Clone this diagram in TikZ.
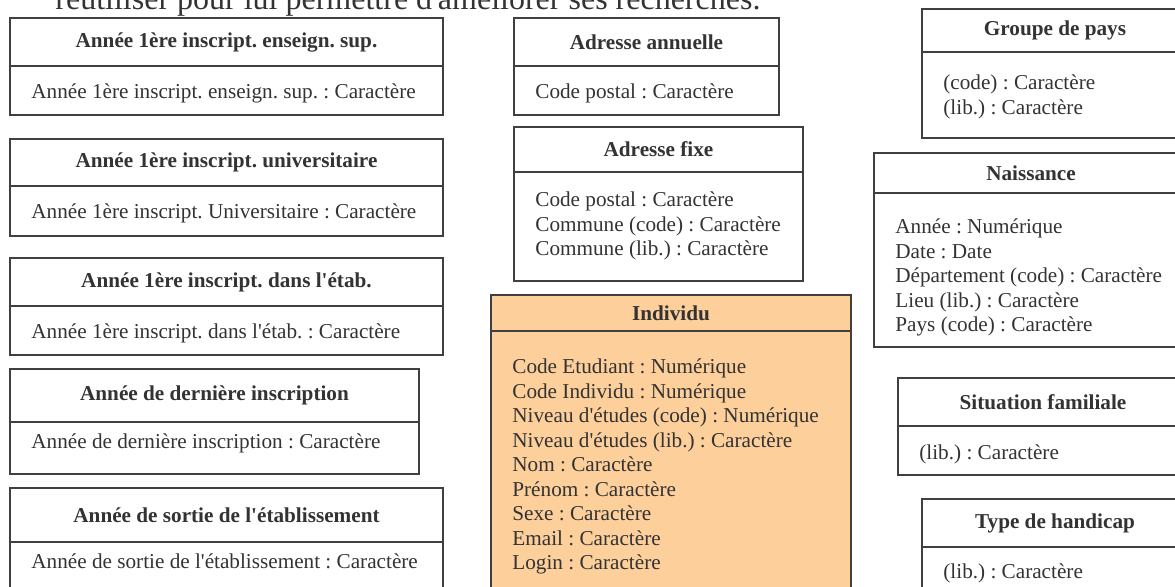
\documentclass[tikz,border=0pt]{standalone}
\usepackage{fontspec}
\setmainfont{Liberation Serif}
\usetikzlibrary{positioning}
\frenchspacing
\definecolor{umlline}{HTML}{404040}
\definecolor{umltext}{HTML}{333333}
\definecolor{indivfill}{HTML}{FCCF9B}
\newcommand{\ap}{\textquotesingle}
\tikzstyle{classhead}=[rectangle,draw=umlline,line width=1pt,anchor=north west,inner sep=0pt,outer sep=0pt,text=umltext,font=\fontsize{10.6}{12.25}\selectfont\bfseries]
\tikzstyle{classbody}=[rectangle,draw=umlline,line width=1pt,anchor=north west,inner sep=0pt,outer sep=0pt]
\tikzstyle{classtext}=[anchor=base west,inner sep=0pt,text=umltext,font=\fontsize{10.6}{12.25}\selectfont]
\tikzstyle{introtext}=[anchor=base west,inner sep=0pt,text=umltext,font=\fontsize{16}{19}\selectfont]

\begin{document}
\begin{tikzpicture}[x=0.5pt,y=-0.5pt]

  \useasboundingbox (0,0) rectangle (1175,587);
  \clip (0,0) rectangle (1175,587);

  \node[introtext] (intro) at (55,10) {réutiliser pour lui permettre d\ap améliorer ses recherches.};

  % name/left/right/top/header/bottom/first line/fill/title/lines
  \foreach \name/\xl/\xr/\yt/\yh/\yb/\yl/\col/\title/\lines in {
      ensup/10/443/18/66/115/92/white/{Année 1ère inscript. enseign. sup.}/{{Année 1ère inscript. enseign. sup. : Caractère}},
      univ/10/443/139/186/236/212/white/{Année 1ère inscript. universitaire}/{{Année 1ère inscript. Universitaire : Caractère}},
      etab/10/443/258/306/355/332/white/{Année 1ère inscript. dans l\ap étab.}/{{Année 1ère inscript. dans l\ap étab. : Caractère}},
      derniere/10/419/369/422/474/442/white/{Année de dernière inscription}/{{Année de dernière inscription : Caractère}},
      sortie/10/443/488/542/640/562/white/{Année de sortie de l\ap établissement}/{{Année de sortie de l\ap établissement : Caractère}},
      annuelle/514/779/18/66/115/92/white/{Adresse annuelle}/{{Code postal : Caractère}},
      fixe/514/803/127/172/281/200/white/{Adresse fixe}/{{Code postal : Caractère},{Commune (code) : Caractère},{Commune (lib.) : Caractère}},
      individu/491/851/295/331/640/367/indivfill/{Individu}/{{Code Etudiant : Numérique},{Code Individu : Numérique},{Niveau d\ap études (code) : Numérique},{Niveau d\ap études (lib.) : Caractère},{Nom : Caractère},{Prénom : Caractère},{Sexe : Caractère},{Email : Caractère},{Login : Caractère}},
      groupe/922/1188/9/52/138/83/white/{Groupe de pays}/{{(code) : Caractère},{(lib.) : Caractère}},
      naissance/874/1188/153/193/347/227/white/{Naissance}/{{Année : Numérique},{Date : Date},{Département (code) : Caractère},{Lieu (lib.) : Caractère},{Pays (code) : Caractère}},
      situation/898/1188/378/426/475/453/white/{Situation familiale}/{{(lib.) : Caractère}},
      handicap/922/1188/499/547/640/572/white/{Type de handicap}/{{(lib.) : Caractère}}}
  {
    \node[classhead,fill=\col,minimum width={(\xr-\xl)*0.5pt},minimum height={(\yh-\yt)*0.5pt}] (\name) at (\xl,\yt) {\title};
    \node[classbody,fill=\col,minimum width={(\xr-\xl)*0.5pt},minimum height={(\yb-\yh)*0.5pt}] (\name body) at (\name.south west) {};
    \foreach \ln [count=\i from 0] in \lines
      \node[classtext] (\name line\i) at (\xl+21,\yl+7+\i*24.5) {\ln};
  }

\end{tikzpicture}
\end{document}
